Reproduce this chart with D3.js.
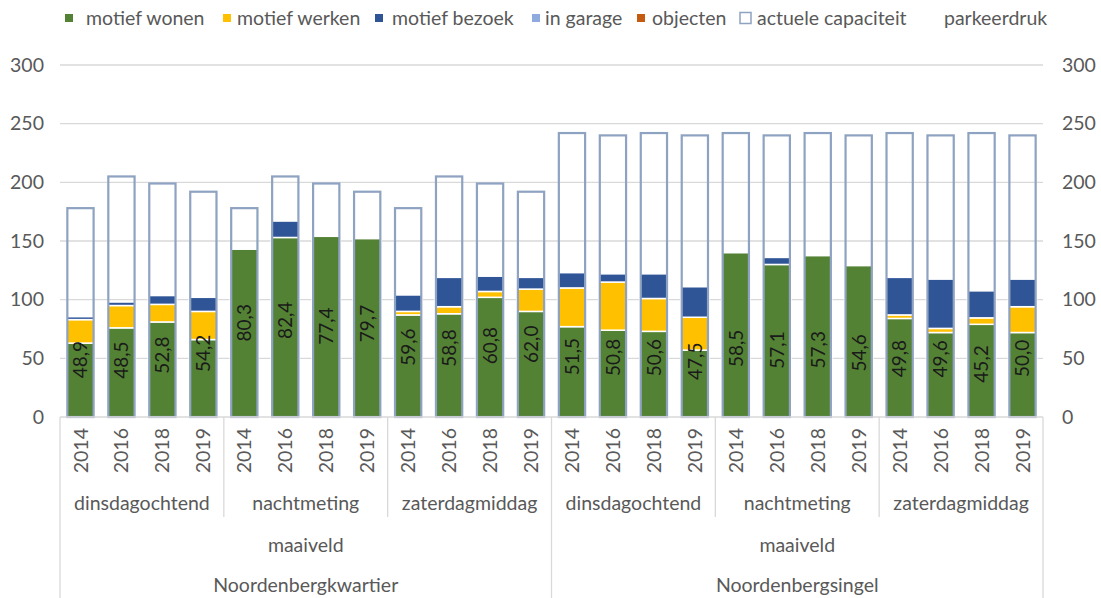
<!DOCTYPE html>
<html>
<head>
<meta charset="utf-8">
<script src="https://cdn.jsdelivr.net/npm/d3@7"></script>
<style>
  html, body { margin: 0; padding: 0; background: #fff; }
  svg { display: block; }
  text { font-family: Lato, "Open Sans", sans-serif; }
</style>
</head>
<body>
<svg id="chart" width="1101" height="598"></svg>
<script>
// ---------- data ----------
const years = ["2014","2016","2018","2019"];
const moments = ["dinsdagochtend","nachtmeting","zaterdagmiddag"];
const levels = ["maaiveld"];
const locations = ["Noordenbergkwartier","Noordenbergsingel"];

const motiefWonen  = [63,76,81,66, 143,153,154,152, 87,88,102,90, 77,74,73,57, 140,130,137.5,129, 84,72,79,72];
const motiefWerken = [20,19,15,24, 0,0,0,0, 3,6,5,19, 33,41,28,28, 0,0,0,0, 3,3.5,5.5,22];
const motiefBezoek = [2.5,3,7.5,12, 0,14,0,0, 14,25,13,10, 13,7,21,26, 0,6,0,0, 32,42,23,23.5];
const inGarage     = [0,0,0,0, 0,0,0,0, 0,0,0,0, 0,0,0,0, 0,0,0,0, 0,0,0,0];
const objecten     = [0,0,0,0, 0,0,0,0, 0,0,0,0, 0,0,0,0, 0,0,0,0, 0,0,0,0];
const capaciteit   = [178,205,199,192, 178,205,199,192, 178,205,199,192, 242,240,242,240, 242,240,242,240, 242,240,242,240];
const parkeerdruk  = [48.9,48.5,52.8,54.2, 80.3,82.4,77.4,79.7, 59.6,58.8,60.8,62.0, 51.5,50.8,50.6,47.5, 58.5,57.1,57.3,54.6, 49.8,49.6,45.2,50.0];

const yTicks = [0,50,100,150,200,250,300];

const seriesNames = ["motief wonen","motief werken","motief bezoek","in garage","objecten"];
const seriesColors = ["#548235","#FFC000","#2F5597","#8FAADC","#C55A11"];
const seriesData = [motiefWonen, motiefWerken, motiefBezoek, inGarage, objecten];

// ---------- layout ----------
const svg = d3.select("#chart");
const plotLeft = 60, plotRight = 1043, plotTop = 65, plotBottom = 417;
const textColor = "#595959";
const gridColor = "#D9D9D9";
const capColor = "#8EA2C1";
const fs = "19.5px";

const idx = d3.range(motiefWonen.length);
const x = d3.scaleBand().domain(idx).range([plotLeft, plotRight]).paddingInner(0.31).paddingOuter(0.155);
const y = d3.scaleLinear().domain([0,300]).range([plotBottom, plotTop]);
const y2 = d3.scaleLinear().domain([0,300]).range([plotBottom, plotTop]);

// gridlines
svg.append("g").selectAll("line").data(yTicks.filter(t => t > 0)).join("line")
  .attr("x1", plotLeft).attr("x2", plotRight)
  .attr("y1", d => y(d)).attr("y2", d => y(d))
  .attr("stroke", gridColor).attr("stroke-width", 1.3);

// left axis
const axL = svg.append("g").attr("transform", `translate(${plotLeft},0)`)
  .call(d3.axisLeft(y).tickValues(yTicks).tickSize(0).tickPadding(16));
axL.select(".domain").remove();
axL.selectAll("text").attr("fill", textColor).style("font-size", fs).style("font-family", "Lato");

// right axis
const axR = svg.append("g").attr("transform", `translate(${plotRight},0)`)
  .call(d3.axisRight(y2).tickValues(yTicks).tickSize(0).tickPadding(19));
axR.select(".domain").remove();
axR.selectAll("text").attr("fill", textColor).style("font-size", fs).style("font-family", "Lato");

// stacked bars
const stackRows = idx.map(i => {
  const o = { i };
  seriesNames.forEach((n, k) => o[n] = seriesData[k][i]);
  return o;
});
const stacked = d3.stack().keys(seriesNames)(stackRows);

const gBars = svg.append("g");
stacked.forEach((layer, k) => {
  gBars.append("g").attr("fill", seriesColors[k])
    .selectAll("rect").data(layer.filter(d => d[1] - d[0] > 0)).join("rect")
    .attr("x", d => x(d.data.i))
    .attr("width", x.bandwidth())
    .attr("y", d => y(d[1]))
    .attr("height", d => y(d[0]) - y(d[1]))
    .attr("stroke", "#fff").attr("stroke-width", 1.5);
});

// capacity outlines
svg.append("g").selectAll("rect").data(idx).join("rect")
  .attr("x", i => x(i) + 1)
  .attr("width", x.bandwidth() - 2)
  .attr("y", i => y(capaciteit[i]) )
  .attr("height", i => y(0) - y(capaciteit[i]))
  .attr("fill", "none").attr("stroke", capColor).attr("stroke-width", 2.2);

// parkeerdruk labels (on secondary axis)
svg.append("g").selectAll("text").data(idx).join("text")
  .attr("transform", i => `translate(${x(i) + x.bandwidth()/2},${y2(parkeerdruk[i])}) rotate(-90)`)
  .attr("text-anchor", "middle").attr("dy", "0.36em")
  .attr("fill", "#1a1a1a").style("font-size", "19px")
  .text(i => d3.format(".1f")(parkeerdruk[i]).replace(".", ","));

// x axis baseline
svg.append("line").attr("x1", plotLeft).attr("x2", plotRight).attr("y1", plotBottom).attr("y2", plotBottom)
  .attr("stroke", gridColor).attr("stroke-width", 1.3);

// year labels
svg.append("g").selectAll("text").data(idx).join("text")
  .attr("transform", i => `translate(${x(i) + x.bandwidth()/2},428) rotate(-90)`)
  .attr("text-anchor", "end").attr("dy", "0.36em")
  .attr("fill", textColor).style("font-size", fs)
  .text(i => years[i % years.length]);

// group separators & labels
const step = x.step();
const nY = years.length;
const nM = moments.length;
const gAxis = svg.append("g");
d3.range(locations.length * nM).forEach(g => {
  const x0 = plotLeft + g * nY * step, x1 = x0 + nY * step;
  gAxis.append("text").attr("x", (x0 + x1) / 2).attr("y", 503).attr("dy", "0.36em")
    .attr("text-anchor", "middle").attr("fill", textColor).style("font-size", fs)
    .text(moments[g % nM]);
  if (g % nM !== 0) {
    gAxis.append("line").attr("x1", x0).attr("x2", x0).attr("y1", plotBottom).attr("y2", 517)
      .attr("stroke", gridColor).attr("stroke-width", 1.3);
  }
});
locations.forEach((loc, l) => {
  const x0 = plotLeft + l * nM * nY * step, x1 = x0 + nM * nY * step;
  gAxis.append("text").attr("x", (x0 + x1) / 2).attr("y", 545).attr("dy", "0.36em")
    .attr("text-anchor", "middle").attr("fill", textColor).style("font-size", fs)
    .text(levels[0]);
  gAxis.append("text").attr("x", (x0 + x1) / 2).attr("y", 585).attr("dy", "0.36em")
    .attr("text-anchor", "middle").attr("fill", textColor).style("font-size", fs)
    .text(loc);
});
[0, 1, 2].forEach(l => {
  const xx = plotLeft + l * nM * nY * step;
  gAxis.append("line").attr("x1", xx).attr("x2", xx).attr("y1", plotBottom).attr("y2", 598)
    .attr("stroke", gridColor).attr("stroke-width", 1.3);
});

// legend
const legendItems = [
  { name: "motief wonen", color: seriesColors[0], mx: 65, tx: 86, type: "sq" },
  { name: "motief werken", color: seriesColors[1], mx: 223, tx: 237, type: "sq" },
  { name: "motief bezoek", color: seriesColors[2], mx: 375, tx: 392, type: "sq" },
  { name: "in garage", color: seriesColors[3], mx: 532, tx: 545, type: "sq" },
  { name: "objecten", color: seriesColors[4], mx: 637, tx: 652, type: "sq" },
  { name: "actuele capaciteit", color: capColor, mx: 740, tx: 757, type: "box" },
  { name: "parkeerdruk", color: null, mx: 0, tx: 944, type: "none" }
];
const gLeg = svg.append("g");
legendItems.forEach(it => {
  if (it.type === "sq") {
    gLeg.append("rect").attr("x", it.mx).attr("y", 14).attr("width", 8).attr("height", 8).attr("fill", it.color);
  } else if (it.type === "box") {
    gLeg.append("rect").attr("x", it.mx).attr("y", 12.5).attr("width", 11).attr("height", 11)
      .attr("fill", "#fff").attr("stroke", it.color).attr("stroke-width", 1.5);
  }
  gLeg.append("text").attr("x", it.tx).attr("y", 18).attr("dy", "0.36em")
    .attr("fill", textColor).style("font-size", fs).text(it.name);
});
</script>
</body>
</html>
